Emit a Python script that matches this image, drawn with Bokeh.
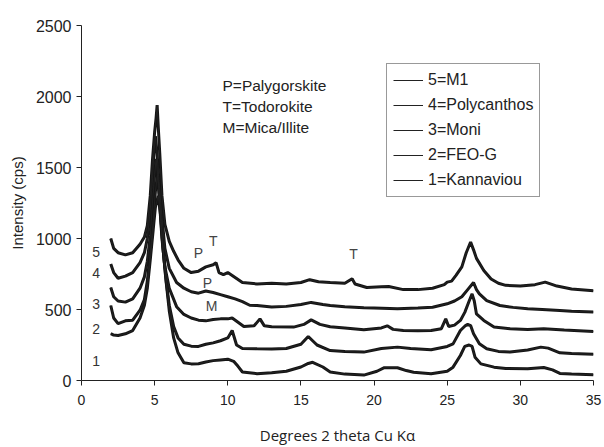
from bokeh.plotting import figure
from bokeh.models import Legend, LegendItem, ColumnDataSource, FixedTicker
from bokeh.core.properties import value
from bokeh.embed import file_html
from bokeh.resources import INLINE

# ---- data ----
x5 = [2.0, 2.2, 2.5, 3.0, 3.5, 4.0, 4.3, 4.5, 4.7, 4.85, 5.0, 5.1, 5.17, 5.25, 5.35, 5.5, 5.7, 6.0, 6.3, 6.6, 7.0,
      7.5, 8.0, 8.5, 9.0, 9.2, 9.4, 9.7, 10.0, 10.3, 11.0, 12.0, 13.0, 14.0, 15.0, 15.6, 16.2, 17.0, 18.0,
      18.5, 18.7, 19.5, 20.5, 21.0, 22.0, 23.0, 24.0, 24.8, 25.0, 25.3, 25.6, 26.0, 26.3, 26.6, 26.8, 27.0,
      27.5, 28.0, 28.5, 29.0, 30.0, 31.0, 31.7, 32.5, 33.5, 35.0]
y5 = [1000, 930, 900, 885, 900, 960, 1010, 1090, 1300, 1550, 1750, 1850, 1940, 1780, 1600, 1300, 1100, 980, 910, 850, 790,
      760, 770, 800, 815, 830, 760, 745, 760, 740, 690, 680, 685, 680, 690, 710, 695, 690, 685,
      716, 680, 655, 660, 662, 640, 640, 650, 675, 693, 700, 740, 800, 900, 975, 920, 860,
      775, 715, 685, 670, 665, 675, 693, 665, 645, 632]

x4 = [2.0, 2.2, 2.5, 3.0, 3.5, 4.0, 4.3, 4.5, 4.7, 4.85, 4.95, 5.05, 5.15, 5.3, 5.5, 5.7, 6.0, 6.5, 7.0, 7.5,
      8.0, 8.5, 9.0, 9.5, 10.0, 10.5, 11.0, 11.5, 12.0, 13.0, 14.0, 15.0, 15.7, 16.5, 17.0, 18.0, 19.3, 20.0,
      21.6, 23.0, 24.0, 25.0, 25.5, 26.0, 26.4, 26.8, 27.0, 27.2, 27.7, 28.6, 29.5, 30.5, 31.5, 32.7, 33.5, 35.0]
y4 = [820, 760, 720, 735, 760, 830, 900, 1000, 1200, 1420, 1600, 1720, 1620, 1400, 1150, 930, 790, 690, 650, 625,
      615, 630, 620, 605, 590, 575, 555, 530, 528, 518, 522, 535, 550, 535, 528, 520, 512, 510,
      505, 510, 516, 540, 560, 590, 640, 690, 640, 610, 563, 528, 515, 505, 500, 493, 488, 482]

x3 = [2.0, 2.2, 2.5, 3.0, 3.5, 4.0, 4.3, 4.5, 4.7, 4.85, 5.0, 5.1, 5.2, 5.35, 5.5, 5.7, 6.0, 6.5, 7.0, 7.5,
      8.0, 8.5, 9.0, 9.5, 10.0, 10.3, 10.7, 11.1, 11.8, 12.2, 12.5, 13.0, 14.5, 15.2, 15.7, 16.3, 17.0, 18.0,
      19.3, 20.5, 20.9, 21.3, 22.0, 23.0, 23.9, 24.6, 24.9, 25.1, 25.5, 25.9, 26.2, 26.5, 26.7, 26.85, 27.0,
      27.5, 28.2, 29.3, 30.5, 31.6, 33.0, 35.0]
y3 = [655, 590, 560, 552, 575, 650, 730, 840, 1020, 1250, 1450, 1560, 1450, 1230, 1000, 800, 650, 520, 465, 440,
      425, 420, 430, 434, 434, 440, 410, 380, 385, 434, 385, 378, 376, 395, 427, 395, 378, 370,
      357, 370, 385, 360, 352, 350, 352, 365, 434, 380, 390, 423, 480, 560, 610, 560, 469,
      423, 376, 364, 360, 364, 355, 345]

x2 = [2.0, 2.2, 2.5, 3.0, 3.5, 4.0, 4.3, 4.5, 4.7, 4.9, 5.05, 5.2, 5.3, 5.45, 5.6, 5.8, 6.0, 6.3, 6.6, 7.0, 7.5,
      8.0, 8.5, 9.0, 9.5, 10.0, 10.3, 10.6, 11.0, 12.0, 13.0, 14.0, 15.0, 15.5, 16.1, 17.0, 18.0, 19.3, 20.5,
      21.6, 22.5, 23.9, 25.0, 25.4, 25.9, 26.25, 26.4, 26.6, 26.8, 27.2, 27.7, 28.5, 29.3, 30.5, 31.4, 31.9,
      32.7, 33.5, 35.0]
y2 = [528, 440, 400, 420, 425, 495, 570, 700, 900, 1120, 1330, 1450, 1350, 1120, 900, 690, 530, 380, 300, 255, 242,
      240, 255, 265, 280, 300, 352, 250, 225, 223, 222, 225, 255, 310, 250, 211, 205, 200, 225,
      235, 225, 216, 240, 258, 352, 387, 395, 387, 329, 258, 223, 205, 200, 215, 235, 228,
      195, 190, 185]

x1 = [2.0, 2.2, 2.5, 3.0, 3.5, 4.0, 4.3, 4.5, 4.7, 4.9, 5.05, 5.25, 5.4, 5.55, 5.75, 6.0, 6.3, 6.6, 7.0, 7.5, 8.0,
      8.5, 9.0, 9.5, 10.0, 10.4, 10.7, 11.0, 12.0, 13.0, 14.0, 15.0, 15.5, 15.8, 16.5, 17.0, 18.0, 19.3, 20.2,
      20.7, 21.6, 22.2, 22.7, 23.9, 25.0, 25.4, 25.9, 26.2, 26.5, 26.7, 26.9, 27.3, 28.2, 29.0, 30.5, 31.6,
      32.2, 32.7, 33.5, 35.0]
y1 = [330, 320, 317, 329, 352, 440, 530, 650, 850, 1060, 1220, 1300, 1170, 960, 730, 490, 300, 195, 125, 117, 118,
      130, 140, 145, 150, 135, 100, 60, 48, 55, 65, 95, 120, 128, 95, 60, 45, 38, 65,
      90, 90, 70, 58, 48, 65, 94, 176, 240, 250, 240, 164, 117, 94, 85, 82, 92,
      75, 50, 45, 40]

series_names = ["5=M1", "4=Polycanthos", "3=Moni", "2=FEO-G", "1=Kannaviou"]
series_x = [x5, x4, x3, x2, x1]
series_y = [y5, y4, y3, y2, y1]

trace_numbers = ["5", "4", "3", "2", "1"]
trace_number_x = [1.0, 1.0, 1.0, 1.0, 1.0]
trace_number_y = [908, 760, 542, 366, 134]

peak_marks = ["P", "T", "P", "M", "T"]
peak_x = [8.0, 9.0, 8.6, 8.9, 18.6]
peak_y = [901, 979, 690, 528, 894]

key_lines = ["P=Palygorskite", "T=Todorokite", "M=Mica/Illite"]
key_x = [9.64, 9.64, 9.64]
key_y = [2077, 1930, 1782]

x_ticks = [0, 5, 10, 15, 20, 25, 30, 35]
y_ticks = [0, 500, 1000, 1500, 2000, 2500]

# ---- figure ----
p = figure(width=604, height=447, output_backend="svg", toolbar_location=None,
           x_range=(0, 35), y_range=(0, 2500),
           min_border_left=81, min_border_right=11, min_border_top=25, min_border_bottom=67)
p.outline_line_color = None
p.grid.grid_line_color = None
p.background_fill_color = "white"
p.border_fill_color = "white"

AX = "#222222"
FONT = "Liberation Sans"
for ax in (p.xaxis[0], p.yaxis[0]):
    ax.axis_line_color = AX
    ax.major_tick_line_color = AX
    ax.minor_tick_line_color = None
    ax.major_tick_in = 0
    ax.major_tick_out = 5
    ax.major_label_text_font = FONT
    ax.major_label_text_color = AX
    ax.axis_label_text_font_style = "normal"
    ax.axis_label_text_color = AX

p.xaxis.ticker = FixedTicker(ticks=x_ticks)
p.yaxis.ticker = FixedTicker(ticks=y_ticks)
p.xaxis.major_label_text_font_size = "14px"
p.yaxis.major_label_text_font_size = "16px"
p.xaxis.major_label_standoff = 9
p.yaxis.major_label_standoff = 5

p.yaxis.axis_label = "Intensity (cps)"
p.yaxis.axis_label_text_font = FONT
p.yaxis.axis_label_text_font_size = "15px"
p.yaxis.axis_label_standoff = 7

p.xaxis.axis_label = "Degrees 2 theta Cu Kα"
p.xaxis.axis_label_text_font = "Open Sans"
p.xaxis.axis_label_text_font_size = "15px"
p.xaxis.axis_label_standoff = 17

renderers = []
for xs, ys in zip(series_x, series_y):
    r = p.line(xs, ys, line_color="#151515", line_width=3)
    renderers.append(r)

# thin overlay of the same series, used as the legend keys
key_renderers = [p.line(xs, ys, line_color="#222222", line_width=1)
                 for xs, ys in zip(series_x, series_y)]

legend = Legend(items=[LegendItem(label=n, renderers=[r]) for n, r in zip(series_names, key_renderers)],
                location=(305, 183), orientation="vertical")
legend.glyph_width = 30
legend.glyph_height = 20
legend.label_height = 20
legend.label_standoff = 5
legend.spacing = 5
legend.padding = 6
legend.margin = 0
legend.border_line_color = "#333333"
legend.border_line_width = 1
legend.background_fill_color = "white"
legend.background_fill_alpha = 1
legend.label_text_font = FONT
legend.label_text_font_size = "16px"
legend.label_text_color = AX
p.add_layout(legend, "center")

src_num = ColumnDataSource(dict(x=trace_number_x, y=trace_number_y, t=trace_numbers))
p.text(x="x", y="y", text="t", source=src_num, text_font=value(FONT), text_font_size="14px",
       text_color="#333333", text_align="center", text_baseline="middle")

src_pk = ColumnDataSource(dict(x=peak_x, y=peak_y, t=peak_marks))
p.text(x="x", y="y", text="t", source=src_pk, text_font=value(FONT), text_font_size="14px",
       text_color="#444444", text_align="center", text_baseline="middle")

src_key = ColumnDataSource(dict(x=key_x, y=key_y, t=key_lines))
p.text(x="x", y="y", text="t", source=src_key, text_font=value(FONT), text_font_size="15.5px",
       text_color=AX, text_align="left", text_baseline="middle")

open("out.html", "w").write(file_html(p, INLINE))
